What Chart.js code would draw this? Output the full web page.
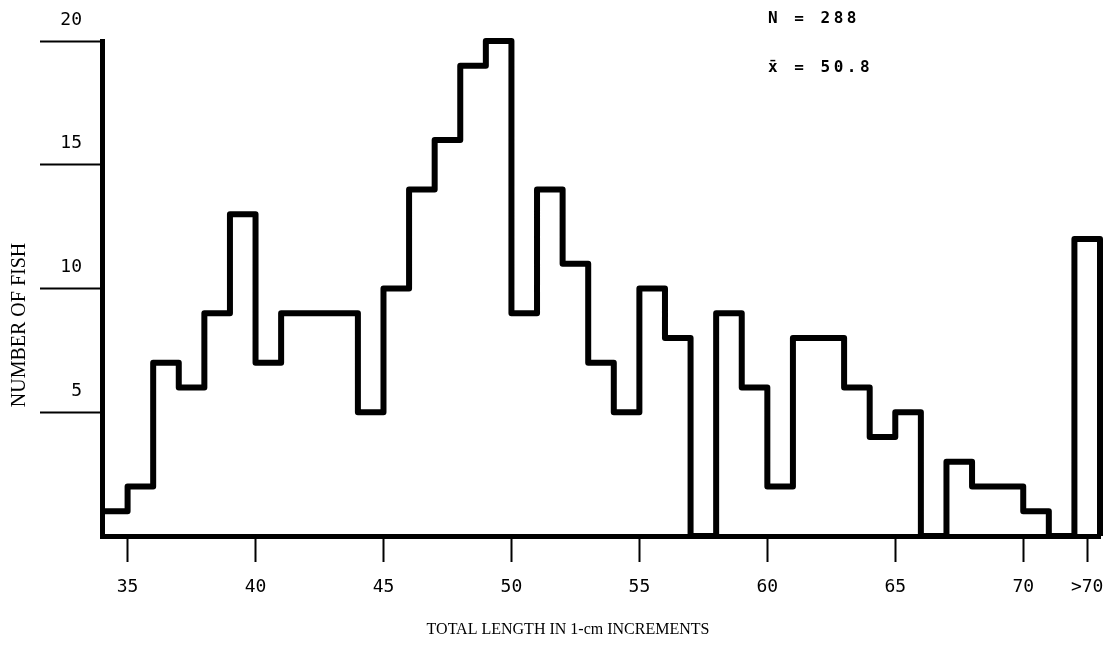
<!DOCTYPE html>
<html>
<head>
<meta charset="utf-8">
<script src="https://cdn.jsdelivr.net/npm/chart.js@4"></script>
<style>
  body { margin: 0; background: #fff; }
  canvas { display: block; }
</style>
</head>
<body>
<canvas id="fishChart" width="1119" height="656"></canvas>
<script>
// lower edge of each 1-cm class, 72 is the ">70" class
const binStart = [34, 35, 36, 37, 38, 39, 40, 41, 42, 43, 44, 45, 46, 47, 48, 49, 50,
  51, 52, 53, 54, 55, 56, 57, 58, 59, 60, 61, 62, 63, 64, 65, 66, 67, 68, 69, 70, 71, 72];
const fishCounts = [1, 2, 7, 6, 9, 13, 7, 9, 9, 9, 5, 10, 14, 16, 19, 20, 9,
  14, 11, 7, 5, 10, 8, 0, 9, 6, 2, 8, 8, 6, 4, 5, 0, 3, 2, 2, 1, 0, 12];
const lastEdge = 73;

const yTicks = [5, 10, 15, 20];
const xTicks = [35, 40, 45, 50, 55, 60, 65, 70, 72.5];
const xTickLabels = ["35", "40", "45", "50", "55", "60", "65", "70", ">70"];

const statLines = ["N = 288", "x\u0304 = 50.8"];
const xTitle = "TOTAL LENGTH IN 1-cm INCREMENTS";
const yTitle = "NUMBER OF FISH";

// step outline of the histogram
const points = binStart.map((x, i) => ({ x: x, y: fishCounts[i] }));
points.push({ x: lastEdge, y: 0 });

// texts placed like on the typed original
const freeText = {
  id: "freeText",
  afterDraw(chart) {
    const c = chart.ctx;
    c.save();
    c.fillStyle = "#000";
    c.textBaseline = "middle";
    c.font = "bold 16px 'DejaVu Sans Mono'";
    c.letterSpacing = "3.5px";
    c.fillText(statLines[0], 768, 19);
    c.fillText(statLines[1], 768, 68);
    c.letterSpacing = "0px";
    c.textAlign = "center";
    c.font = "16px 'Liberation Serif'";
    c.fillText(xTitle, 568, 630);
    c.translate(20, 325);
    c.rotate(-Math.PI / 2);
    c.font = "20px 'Liberation Serif'";
    c.fillText(yTitle, 0, 0);
    c.restore();
  },
};

const ctx = document.getElementById("fishChart").getContext("2d");
const fishChart = new Chart(ctx, {
  type: "line",
  data: {
    datasets: [
      {
        data: points,
        stepped: "before",
        borderColor: "#000",
        borderWidth: 6,
        borderJoinStyle: "round",
        borderCapStyle: "butt",
        pointRadius: 0,
        fill: false,
        clip: false,
      },
    ],
  },
  options: {
    responsive: false,
    animation: false,
    layout: {
      padding: { top: 41, right: 19, left: 0, bottom: 0 },
    },
    scales: {
      x: {
        type: "linear",
        min: 34,
        max: 73,
        afterBuildTicks: (scale) => {
          scale.ticks = xTicks.map((v) => ({ value: v }));
        },
        afterFit: (scale) => {
          scale.height = 120;
        },
        border: { display: true, color: "#000", width: 5 },
        grid: {
          drawOnChartArea: false,
          drawTicks: true,
          tickLength: 26,
          tickWidth: 2,
          tickColor: "#000",
        },
        ticks: {
          color: "#000",
          font: { family: "'DejaVu Sans Mono'", size: 18 },
          padding: 15,
          maxRotation: 0,
          autoSkip: false,
          callback: (value, index) => xTickLabels[index],
        },
      },
      y: {
        min: 0,
        max: 20,
        afterBuildTicks: (scale) => {
          scale.ticks = yTicks.map((v) => ({ value: v }));
        },
        afterFit: (scale) => {
          scale.width = 102;
        },
        border: { display: true, color: "#000", width: 5 },
        grid: {
          drawOnChartArea: false,
          drawTicks: true,
          tickLength: 62,
          tickWidth: 2,
          tickColor: "#000",
        },
        ticks: {
          color: "#000",
          font: { family: "'DejaVu Sans Mono'", size: 18 },
          padding: -42,
          labelOffset: -21,
        },
      },
    },
    plugins: {
      legend: { display: false },
      tooltip: { enabled: false },
    },
  },
  plugins: [freeText],
});
</script>
</body>
</html>
